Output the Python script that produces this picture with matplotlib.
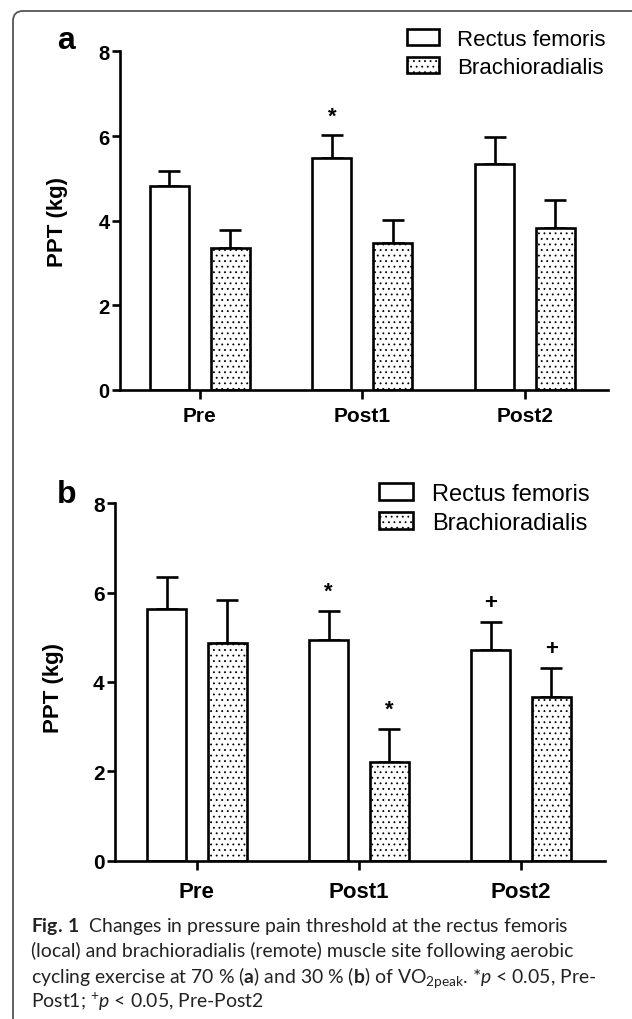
import numpy as np
import matplotlib
matplotlib.use('Agg')
import matplotlib.pyplot as plt
from matplotlib.patches import Patch, FancyBboxPatch

plt.rcParams['font.family'] = ['Liberation Sans', 'DejaVu Sans']
plt.rcParams['hatch.linewidth'] = 0.6
plt.rcParams['mathtext.fontset'] = 'custom'
plt.rcParams['mathtext.rm'] = 'Lato'
plt.rcParams['mathtext.it'] = 'Lato:italic'
plt.rcParams['mathtext.bf'] = 'Lato:bold'

# ------------------------------------------------------------------ #
groups = ['Pre', 'Post1', 'Post2']
series = ['Rectus femoris', 'Brachioradialis']
yticks = [0, 2, 4, 6, 8]

# panel a : 70 % VO2peak
rf_a = [4.83, 5.49, 5.35]
rf_a_sem = [0.34, 0.53, 0.62]
br_a = [3.35, 3.47, 3.82]
br_a_sem = [0.42, 0.55, 0.68]
marks_a = [(1, 0, '*')]            # (group, series, symbol)

# panel b : 30 % VO2peak
rf_b = [5.63, 4.95, 4.71]
rf_b_sem = [0.71, 0.65, 0.63]
br_b = [4.87, 2.22, 3.66]
br_b_sem = [0.96, 0.73, 0.65]
marks_b = [(1, 0, '*'), (1, 1, '*'), (2, 0, '+'), (2, 1, '+')]

caption = [
    r'$\mathbf{Fig.\,1}$  Changes in pressure pain threshold at the rectus femoris',
    '(local) and brachioradialis (remote) muscle site following aerobic',
    r'cycling exercise at 70 % ($\mathbf{a}$) and 30 % ($\mathbf{b}$) of VO$_{\mathrm{2peak}}$. *$\mathit{p}$ < 0.05, Pre-',
    r'Post1; $^{+}\mathit{p}$ < 0.05, Pre-Post2',
]
# ------------------------------------------------------------------ #
W, H = 632., 1020.
fig = plt.figure(figsize=(W / 100, H / 100), dpi=100)

offs = [-0.187, 0.187]
hatches = [None, '...']
lw = 1.9


def draw_panel(ax, means, sems, marks, xlim, xfs, yfs, xpad):
    x = np.arange(len(groups))
    for k in range(2):
        ax.bar(x + offs[k], means[k], width=0.24, color='white', edgecolor='black',
               linewidth=lw, hatch=hatches[k], zorder=2)
        ax.errorbar(x + offs[k], means[k], yerr=[np.zeros(len(groups)), sems[k]], fmt='none',
                    ecolor='black', elinewidth=lw, capsize=8, capthick=lw, zorder=1)
    for g, k, sym in marks:
        ax.text(x[g] + offs[k], means[k][g] + sems[k][g] + 0.2, sym, ha='center', va='bottom',
                fontsize=16, fontweight='bold', clip_on=False)
    ax.set_xlim(*xlim)
    ax.set_ylim(0, 8)
    ax.set_yticks(yticks)
    ax.set_xticks(x)
    ax.set_xticklabels(groups, fontsize=xfs, fontweight='bold')
    ax.set_yticklabels([str(v) for v in yticks], fontsize=yfs, fontweight='bold')
    for s in ['top', 'right']:
        ax.spines[s].set_visible(False)
    for s in ['left', 'bottom']:
        ax.spines[s].set_linewidth(lw)
    ax.tick_params(axis='y', length=6, width=lw, pad=1.5)
    ax.tick_params(axis='x', length=6.5, width=lw, pad=xpad)


def add_legend(ax, lx, ly, fs):
    handles = [Patch(facecolor='white', edgecolor='black', linewidth=lw, hatch=h) for h in hatches]
    ax.legend(handles, series, loc='upper left', bbox_to_anchor=(lx / W, 1 - ly / H),
              bbox_transform=fig.transFigure, frameon=False, fontsize=fs,
              handlelength=1.45, handleheight=0.72, handletextpad=0.8,
              labelspacing=0.3, borderpad=0, borderaxespad=0)


ax_a = fig.add_axes([120 / W, 1 - 391 / H, 488 / W, 338.6 / H])
draw_panel(ax_a, [rf_a, br_a], [rf_a_sem, br_a_sem], marks_a, (-0.49, 2.51), 15, 14.5, 5)
add_legend(ax_a, 407, 30, 16)

ax_b = fig.add_axes([115 / W, 1 - 861.7 / H, 490.3 / W, 357.4 / H])
draw_panel(ax_b, [rf_b, br_b], [rf_b_sem, br_b_sem], marks_b, (-0.505, 2.52), 16, 15, 8)
add_legend(ax_b, 379, 484, 17)

# panel letters and y labels
fig.text(66 / W, 1 - 49 / H, 'a', fontsize=23, fontweight='bold', ha='center', va='baseline')
fig.text(66.5 / W, 1 - 503 / H, 'b', fontsize=23, fontweight='bold', ha='center', va='baseline')
fig.text(58 / W, 1 - 222 / H, 'PPT (kg)', fontsize=16, fontweight='bold', rotation=90,
         ha='center', va='center')
fig.text(53 / W, 1 - 688 / H, 'PPT (kg)', fontsize=16, fontweight='bold', rotation=90,
         ha='center', va='center')

# caption, sized so that the first line spans the same width as in the figure
cap_texts = []
for i, line in enumerate(caption):
    t = fig.text(30.7 / W, 1 - (932 + 25.3 * i) / H, line, fontsize=12, ha='left',
                 va='baseline', color='#222222', family=['Lato', 'DejaVu Sans'])
    cap_texts.append(t)
fig.canvas.draw()
r = fig.canvas.get_renderer()
w1 = cap_texts[0].get_window_extent(r).width
for t in cap_texts:
    t.set_fontsize(12 * 537. / w1)

# rounded frame
frame = FancyBboxPatch((13 / W, -0.05), 1.2, 1 - 12 / H + 0.05,
                       boxstyle='round,pad=0,rounding_size=%f' % (10 / W),
                       mutation_aspect=W / H, transform=fig.transFigure,
                       fill=False, edgecolor='#555555', linewidth=1.3)
fig.patches.append(frame)

fig.savefig('out.png', dpi=100)
